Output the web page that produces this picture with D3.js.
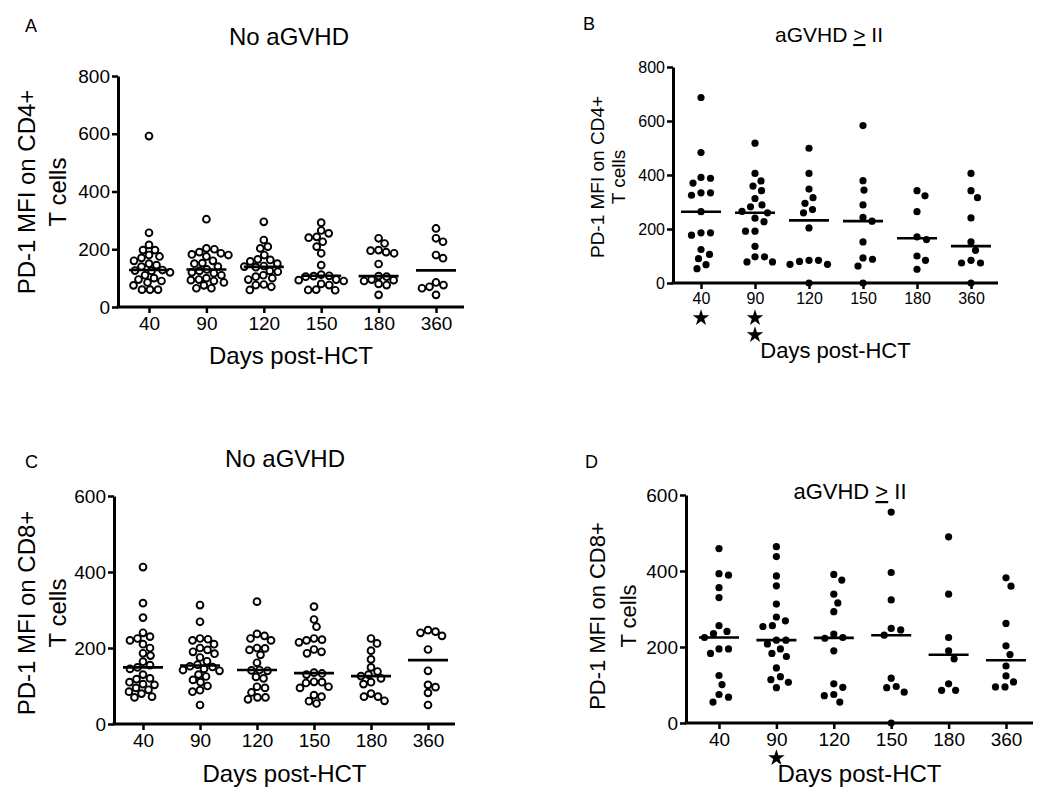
<!DOCTYPE html>
<html>
<head>
<meta charset="utf-8">
<script src="https://cdn.jsdelivr.net/npm/d3@7"></script>
<style>
  html, body { margin: 0; padding: 0; background: #fff; }
  svg { display: block; }
  text { font-family: "Liberation Sans", Arial, sans-serif; fill: #000; }
</style>
</head>
<body>
<svg id="chart" width="1050" height="795"></svg>
<script>
// ---------------- DATA ----------------
const days = ["40", "90", "120", "150", "180", "360"];

// A: PD-1 MFI on CD4+ T cells, no aGVHD
const cd4NoGvhd = [
  [592, 257, 215, 197, 197, 180, 175, 170, 160, 150, 145, 140, 126, 128, 125, 120, 110, 100, 95, 90, 85, 75, 60, 60, 60],
  [304, 203, 200, 190, 186, 182, 180, 175, 160, 152, 150, 140, 130, 125, 120, 117, 110, 100, 95, 93, 90, 85, 75, 65, 65],
  [295, 232, 209, 203, 180, 165, 163, 158, 150, 142, 140, 138, 125, 122, 110, 105, 100, 95, 78, 76, 70, 59],
  [292, 265, 255, 243, 240, 226, 209, 186, 145, 112, 107, 108, 105, 95, 93, 90, 80, 76, 60, 59, 58],
  [238, 220, 197, 195, 190, 186, 149, 107, 105, 95, 93, 90, 80, 76, 42],
  [272, 238, 226, 180, 169, 85, 76, 70, 65, 42]
];
// B: PD-1 MFI on CD4+ T cells, aGVHD >= II
const cd4Gvhd = [
  [687, 483, 391, 388, 370, 334, 334, 325, 264, 186, 186, 177, 124, 106, 90, 68, 53],
  [518, 406, 378, 359, 342, 313, 289, 282, 265, 260, 240, 227, 192, 192, 136, 97, 97, 78, 78],
  [499, 406, 348, 316, 295, 272, 260, 204, 84, 84, 80, 69, 69, 0],
  [583, 379, 344, 289, 243, 229, 152, 93, 88, 63, 0],
  [342, 323, 264, 171, 161, 100, 84, 51],
  [406, 342, 316, 241, 152, 121, 84, 74, 74, 0]
];
// C: PD-1 MFI on CD8+ T cells, no aGVHD
const cd8NoGvhd = [
  [413, 318, 280, 240, 230, 225, 220, 210, 200, 186, 180, 164, 155, 149, 145, 130, 120, 118, 110, 105, 103, 95, 90, 85, 80, 72, 70],
  [313, 269, 225, 223, 220, 210, 200, 195, 190, 185, 175, 165, 156, 152, 150, 145, 142, 140, 130, 125, 116, 110, 100, 89, 85, 50],
  [322, 237, 232, 225, 220, 200, 199, 195, 182, 161, 142, 141, 140, 124, 120, 98, 95, 83, 70, 70, 65],
  [309, 275, 256, 225, 222, 220, 215, 196, 190, 186, 135, 133, 130, 111, 110, 108, 98, 95, 76, 72, 60, 54],
  [225, 212, 193, 170, 149, 138, 130, 126, 120, 110, 105, 80, 72, 72, 61],
  [247, 243, 240, 232, 196, 140, 103, 97, 82, 50]
];
// D: PD-1 MFI on CD8+ T cells, aGVHD >= II
const cd8Gvhd = [
  [459, 393, 389, 356, 330, 256, 241, 235, 225, 195, 195, 183, 125, 101, 75, 68, 55],
  [464, 438, 387, 361, 313, 279, 269, 256, 254, 218, 218, 208, 195, 183, 175, 145, 122, 114, 107, 93],
  [391, 376, 339, 316, 293, 234, 225, 223, 190, 103, 94, 75, 72, 55],
  [555, 396, 324, 249, 245, 231, 118, 96, 93, 81, 0],
  [490, 339, 225, 190, 169, 103, 86, 86],
  [382, 360, 262, 203, 180, 150, 124, 108, 95, 95]
];

// significance stars per time point
const starsCd4Gvhd = [1, 2, 0, 0, 0, 0];
const starsCd8Gvhd = [0, 1, 0, 0, 0, 0];

const ticksCd4 = [0, 200, 400, 600, 800];
const ticksCd8 = [0, 200, 400, 600];

const yLabelCd4 = ["PD-1 MFI on CD4+", "T cells"];
const yLabelCd8 = ["PD-1 MFI on CD8+", "T cells"];
const xLabel = "Days post-HCT";

// ---------------- LAYOUT ----------------
const panels = [
  { letter: "A", title: "No aGVHD", data: cd4NoGvhd, ticks: ticksCd4, ymax: 800, ylab: yLabelCd4,
    filled: false, stars: null,
    ax0: 118, ax1: 464, cx0: 149, cx1: 436, y0: 307, y1: 76,
    tickFont: 19, labFont: 24, labX: [27, 58], labCy: 192, xlabY: 364, xlabFont: 24,
    titleX: 289, titleY: 45, titleFont: 24, letterX: 25, letterY: 32 },
  { letter: "B", title: "aGVHD", gtitle: true, data: cd4Gvhd, ticks: ticksCd4, ymax: 800, ylab: yLabelCd4,
    filled: true, stars: starsCd4Gvhd,
    ax0: 673, ax1: 998, cx0: 701, cx1: 971, y0: 283, y1: 67,
    tickFont: 16, labFont: 19, labX: [597, 618], labCy: 177, xlabY: 358, xlabFont: 22,
    titleX: 829, titleY: 42, titleFont: 21, letterX: 583, letterY: 30 },
  { letter: "C", title: "No aGVHD", data: cd8NoGvhd, ticks: ticksCd8, ymax: 600, ylab: yLabelCd8,
    filled: false, stars: null,
    ax0: 114, ax1: 455, cx0: 143, cx1: 428, y0: 724, y1: 496,
    tickFont: 19, labFont: 24, labX: [27, 58], labCy: 613, xlabY: 782, xlabFont: 24,
    titleX: 285, titleY: 467, titleFont: 24, letterX: 25, letterY: 468 },
  { letter: "D", title: "aGVHD", gtitle: true, data: cd8Gvhd, ticks: ticksCd8, ymax: 600, ylab: yLabelCd8,
    filled: true, stars: starsCd8Gvhd,
    ax0: 686, ax1: 1033, cx0: 719, cx1: 1006, y0: 723, y1: 495,
    tickFont: 19, labFont: 22, labX: [597, 628], labCy: 616, xlabY: 782, xlabFont: 24,
    titleX: 850, titleY: 499, titleFont: 22, letterX: 585, letterY: 468 }
];

const svg = d3.select("#chart");

function swarm(vals, y, d) {
  const pts = vals.map(v => ({ v, y: y(v) })).sort((a, b) => a.y - b.y);
  const placed = [];
  for (const p of pts) {
    let off = 0;
    for (let k = 0; k < 400; k++) {
      const o = k === 0 ? 0 : (k % 2 ? 1 : -1) * Math.ceil(k / 2) * 0.5;
      if (placed.every(q => (q.x - o) ** 2 + (q.y - p.y) ** 2 >= d * d)) { off = o; break; }
    }
    p.x = off;
    placed.push(p);
  }
  return pts;
}

panels.forEach(P => {
  const g = svg.append("g");
  const x = d3.scalePoint().domain(days).range([P.cx0, P.cx1]);
  const y = d3.scaleLinear().domain([0, P.ymax]).range([P.y0, P.y1]);

  // y axis
  const yAxis = d3.axisLeft(y).tickValues(P.ticks).tickSize(6).tickPadding(2).tickSizeOuter(0);
  const ya = g.append("g").attr("transform", `translate(${P.ax0},0)`).call(yAxis);
  ya.select(".domain").attr("stroke-width", 3).attr("stroke", "#000");
  ya.selectAll(".tick line").attr("stroke-width", 2.5);
  ya.selectAll(".tick text").attr("font-size", P.tickFont).attr("font-family", "Liberation Sans, Arial, sans-serif");

  // x axis
  const xAxis = d3.axisBottom(x).tickSize(6).tickPadding(4).tickSizeOuter(0);
  const xa = g.append("g").attr("transform", `translate(0,${P.y0})`).call(xAxis);
  xa.select(".domain").remove();
  xa.append("line").attr("x1", P.ax0 - 1.5).attr("x2", P.ax1).attr("y1", 0).attr("y2", 0)
    .attr("stroke", "#000").attr("stroke-width", 3);
  xa.selectAll(".tick line").attr("stroke-width", 2.5);
  xa.selectAll(".tick text").attr("font-size", P.tickFont).attr("font-family", "Liberation Sans, Arial, sans-serif");

  // points
  P.data.forEach((vals, i) => {
    const pts = swarm(vals, y, P.filled ? 9.5 : 7.6);
    const cx = x(days[i]);
    g.append("g").selectAll("circle").data(pts).join("circle")
      .attr("cx", d => cx + d.x).attr("cy", d => d.y)
      .attr("r", P.filled ? 3.6 : 3.4)
      .attr("fill", P.filled ? "#000" : "#fff")
      .attr("stroke", "#000")
      .attr("stroke-width", P.filled ? 0 : 1.9);
    const med = d3.median(vals);
    g.append("line").attr("x1", cx - 20).attr("x2", cx + 20)
      .attr("y1", y(med)).attr("y2", y(med))
      .attr("stroke", "#000").attr("stroke-width", 2.6);
  });

  // stars
  if (P.stars) {
    P.stars.forEach((n, i) => {
      for (let k = 0; k < n; k++) {
        g.append("path").attr("d", d3.symbol(d3.symbolStar, 85)())
          .attr("transform", `translate(${x(days[i])},${P.y0 + 35 + k * 17})`)
          .attr("fill", "#000");
      }
    });
  }

  // y label (two lines, rotated)
  P.ylab.forEach((t, k) => {
    g.append("text")
      .attr("transform", `translate(${P.labX[k]},${P.labCy}) rotate(-90)`)
      .attr("text-anchor", "middle").attr("dy", "0.35em")
      .attr("font-size", P.labFont).text(t);
  });

  // x label
  g.append("text").attr("x", (P.ax0 + P.ax1) / 2).attr("y", P.xlabY)
    .attr("text-anchor", "middle").attr("font-size", P.xlabFont).text(xLabel);

  // title
  const tt = g.append("text").attr("x", P.titleX).attr("y", P.titleY)
    .attr("text-anchor", "middle").attr("font-size", P.titleFont).text(P.title);
  if (P.gtitle) {
    tt.append("tspan").text(" ");
    tt.append("tspan").attr("text-decoration", "underline").text(">");
    tt.append("tspan").text(" II");
  }

  // panel letter
  g.append("text").attr("x", P.letterX).attr("y", P.letterY)
    .attr("font-size", 18).text(P.letter);
});
</script>
</body>
</html>
